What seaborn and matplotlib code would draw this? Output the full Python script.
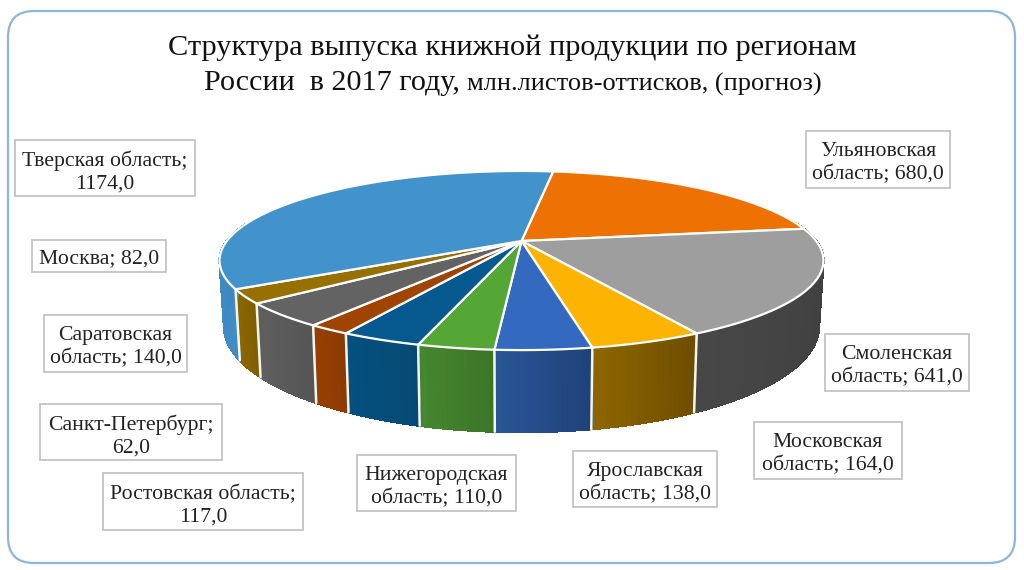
import numpy as np
import seaborn as sns
import matplotlib.pyplot as plt
from matplotlib.colors import to_rgb
from matplotlib.patches import FancyBboxPatch, Rectangle

# Data, clockwise from the first slice
regions = ['Ульяновская\nобласть', 'Смоленская\nобласть', 'Московская\nобласть', 'Ярославская\nобласть',
           'Нижегородская\nобласть', 'Ростовская область', 'Санкт-Петербург', 'Саратовская\nобласть',
           'Москва', 'Тверская область']
values = [680.0, 641.0, 164.0, 138.0, 110.0, 117.0, 62.0, 140.0, 82.0, 1174.0]

top_colors = ['#ee7203', '#9e9e9e', '#fdb301', '#3369bf', '#54a735', '#05598f', '#a04404', '#636363', '#967000', '#4292cc']
wall_left = ['#b85802', '#3c3c3c', '#6e4d00', '#1f4279', '#3c7528', '#064a74', '#8c3a03', '#555555', '#7f5e00', '#3f8cc6']
wall_right = ['#b85802', '#474747', '#8d6500', '#2a5596', '#46862f', '#04507f', '#963f03', '#5f5f5f', '#8c6600', '#3b80b8']

# Label boxes in pixels: left, top, right, bottom
label_boxes = [(806, 131, 950, 188), (825, 334, 969, 391), (754, 422, 902, 479), (573, 451, 717, 507),
               (357, 455, 516, 511), (103, 473, 303, 530), (40, 404, 222, 460), (44, 315, 187, 372),
               (32, 240, 166, 272), (15, 140, 195, 196)]

sns.set_theme(style='white')
plt.rcParams['font.family'] = ['Liberation Serif', 'DejaVu Serif']

# Pie geometry (perspective view of a circle)
cx, cy = 521.5, 241
a, b, k = 294.7, 85.3, 0.218
start_deg = 7.5


def top_xy(theta):
    u, v = np.sin(theta), np.cos(theta)
    w = 1 + k * v
    return cx + a * u / w, cy - b * v / w


def bottom_xy(theta):
    x, y = top_xy(theta)
    depth = 82 - 0.18 * (350 - y)
    return cx + (x - cx) * 0.985, y + depth


fig = plt.figure(figsize=(10.24, 5.7), dpi=100)
ax = fig.add_axes([0, 0, 1, 1])
ax.set_xlim(0, 1024)
ax.set_ylim(570, 0)
ax.axis('off')

ax.add_patch(FancyBboxPatch((8, 11), 1007, 552, boxstyle='round,pad=0,rounding_size=26',
                            fc='white', ec='#8db6dc', lw=1.6))

shares = np.array(values) / sum(values) * 2 * np.pi
edges = np.deg2rad(start_deg) + np.concatenate([[0], np.cumsum(shares)])

# Side walls first, the top covers the hidden ones
for i in range(len(values)):
    th = np.linspace(edges[i], edges[i + 1], max(int(np.degrees(shares[i])), 8) + 1)
    c0, c1 = np.array(to_rgb(wall_left[i])), np.array(to_rgb(wall_right[i]))
    for j in range(len(th) - 1):
        # the back of the rim is never seen
        if np.cos(th[j]) > 0.2 and np.cos(th[j + 1]) > 0.2:
            continue
        x1, y1 = top_xy(th[j:j + 2])
        x2, y2 = bottom_xy(th[j:j + 2])
        t = j / (len(th) - 2)
        col = c0 * (1 - t) + c1 * t
        ax.fill([x1[0], x1[1], x2[1], x2[0]], [y1[0], y1[1], y2[1], y2[0]], color=col, lw=1.0,
                antialiased=False, zorder=2)

for e in edges[:-1]:
    x1, y1 = top_xy(e)
    x2, y2 = bottom_xy(e)
    if np.cos(e) < 0.1:
        ax.plot([x1, x2], [y1, y2], color='#f6f6ee', lw=1.8, zorder=3)

# Top of the pie
for i in range(len(values)):
    th = np.linspace(edges[i], edges[i + 1], 120)
    x, y = top_xy(th)
    ax.fill(np.r_[cx, x], np.r_[cy, y], facecolor=top_colors[i], edgecolor='white', lw=1.6,
            joinstyle='round', zorder=4)

# Title
ax.text(512, 48, 'Структура выпуска книжной продукции по регионам', ha='center', va='center',
        fontsize=21.85, color='#111111')
ax.text(204, 83, 'России  в 2017 году,', ha='left', va='center', fontsize=21.7, color='#111111')
ax.text(467, 84, 'млн.листов-оттисков, (прогноз)', ha='left', va='center', fontsize=19, color='#111111')

# Data labels
for name, val, box in zip(regions, values, label_boxes):
    l, t, r, bt = box
    ax.add_patch(Rectangle((l, t), r - l, bt - t, fc='white', ec='#c4c4c4', lw=1.3, zorder=5))
    num = f'{val:.1f}'.replace('.', ',')
    if name == 'Москва':
        txt = f'{name}; {num}'
        shift = 3
    elif '\n' in name:
        txt = f'{name}; {num}'
        shift = 4
    else:
        txt = f'{name};\n{num}'
        shift = 4
    ax.text((l + r) / 2, (t + bt) / 2 + shift, txt, ha='center', va='center', fontsize=15.7,
            linespacing=1.27, color='#222222', zorder=6)

fig.savefig('out.png', dpi=100)
